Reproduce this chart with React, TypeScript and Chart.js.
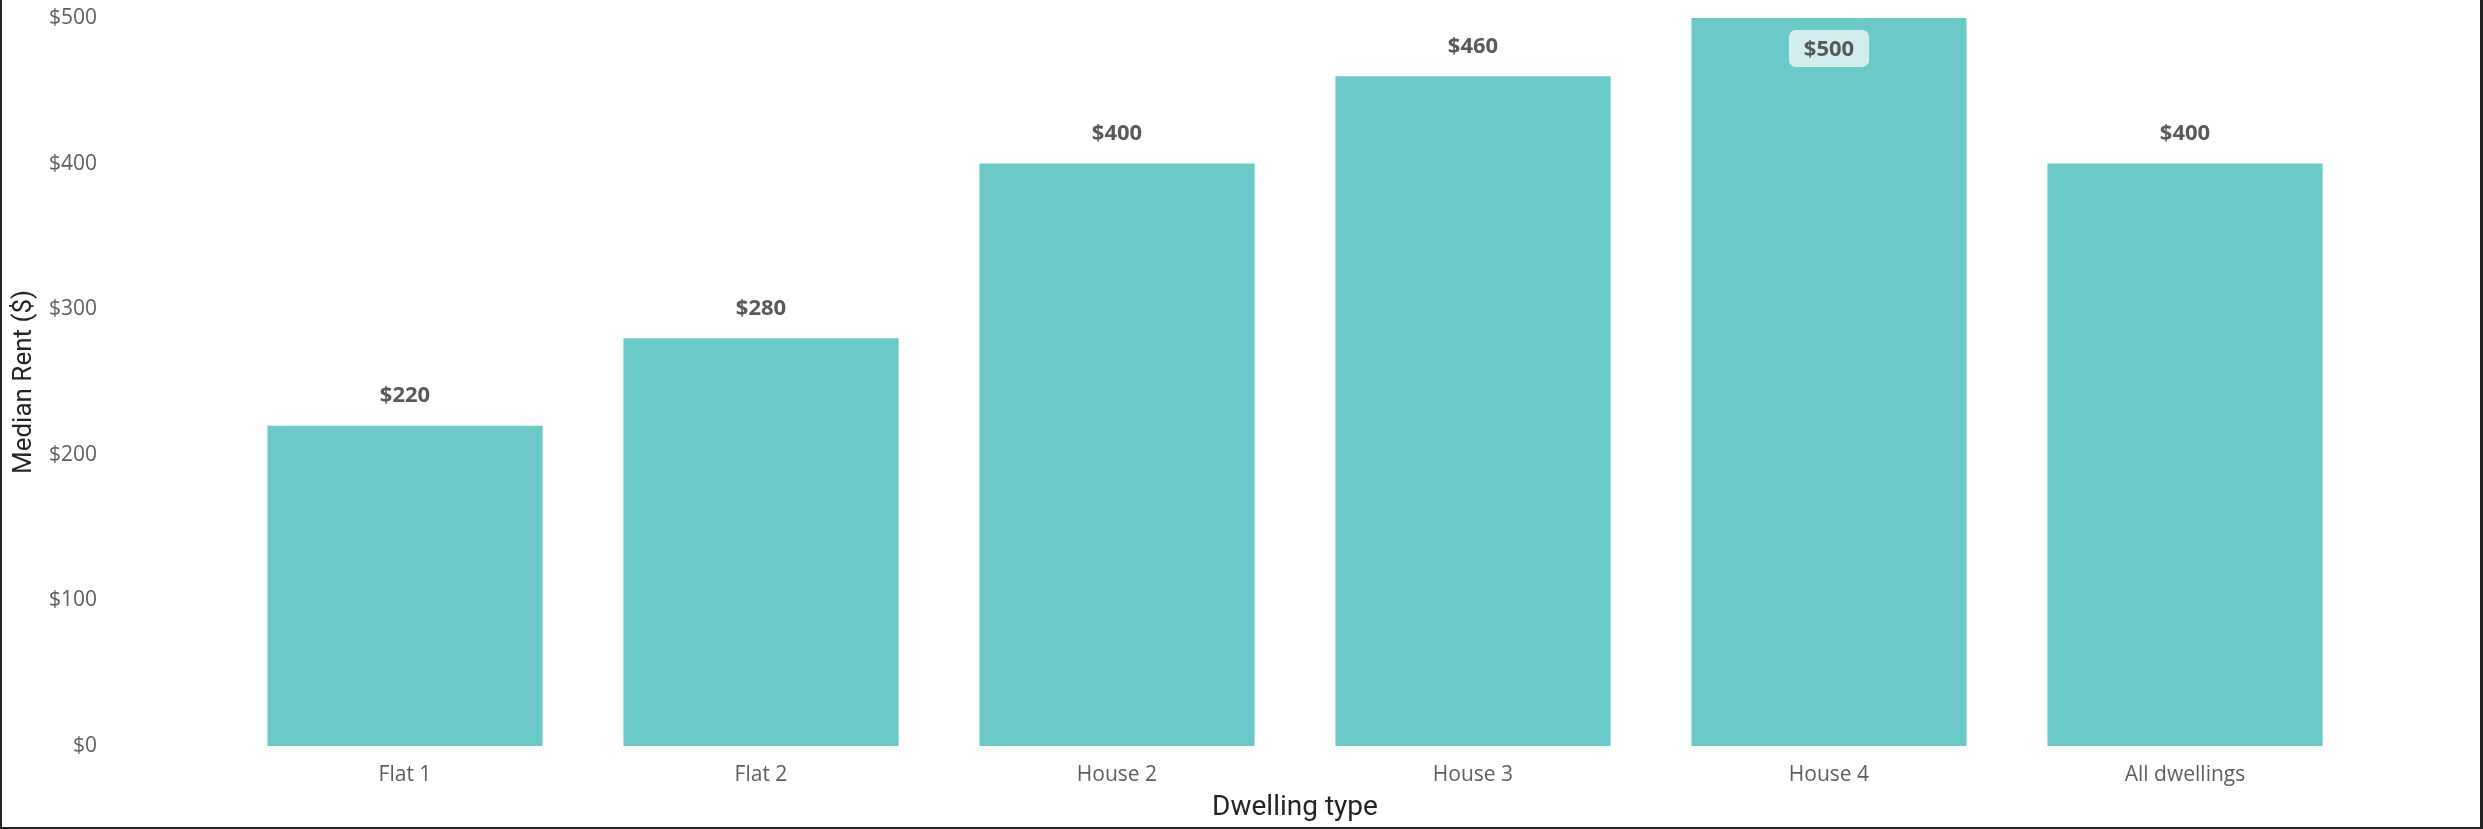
import React, { useEffect, useRef } from "react";
import { Chart, registerables } from "chart.js";

Chart.register(...registerables);

const categories: string[] = ["Flat 1", "Flat 2", "House 2", "House 3", "House 4", "All dwellings"];
const medianRent: number[] = [220, 280, 400, 460, 500, 400];
const yTicks: number[] = [0, 100, 200, 300, 400, 500];

const BAR_COLOR = "#6BC9C8";
const TICK_COLOR = "#605E5C";
const TITLE_COLOR = "#252423";
const LABEL_COLOR = "#595959";
const TICK_FONT = "'Open Sans', 'Noto Sans', sans-serif";
const TITLE_FONT = "Roboto, 'Noto Sans', sans-serif";

const dataLabelPlugin = {
  id: "dataLabels",
  afterDatasetsDraw(chart: any) {
    const ctx = chart.ctx;
    const meta = chart.getDatasetMeta(0);
    const ds = chart.data.datasets[0];
    ctx.save();
    ctx.font = `bold 22px ${TICK_FONT}`;
    ctx.textAlign = "center";
    ctx.textBaseline = "middle";
    meta.data.forEach((bar: any, i: number) => {
      const text = "$" + ds.data[i];
      const top = bar.y;
      const x = bar.x;
      if (top - chart.chartArea.top < 40) {
        const w = ctx.measureText(text).width + 30;
        const h = 37;
        const cy = top + 12 + h / 2;
        ctx.fillStyle = "#D2EFEF";
        ctx.beginPath();
        (ctx as any).roundRect(x - w / 2, cy - h / 2, w, h, 7);
        ctx.fill();
        ctx.fillStyle = LABEL_COLOR;
        ctx.fillText(text, x, cy + 1);
      } else {
        ctx.fillStyle = LABEL_COLOR;
        ctx.fillText(text, x, top - 30);
      }
    });
    ctx.restore();
  },
};

export default function App() {
  const ref = useRef<HTMLCanvasElement | null>(null);

  useEffect(() => {
    document.body.style.margin = "0";
    const canvas = ref.current;
    if (!canvas) return;
    const chart = new Chart(canvas, {
      type: "bar",
      data: {
        labels: categories,
        datasets: [
          {
            label: "Median Rent ($)",
            data: medianRent,
            backgroundColor: BAR_COLOR,
            borderWidth: 0,
            categoryPercentage: 1,
            barPercentage: 0.773,
          },
        ],
      },
      options: {
        animation: false,
        responsive: false,
        devicePixelRatio: 1,
        layout: { padding: { left: 0, right: 120, top: 18, bottom: 0 } },
        plugins: {
          legend: { display: false },
          tooltip: { enabled: false },
        },
        scales: {
          x: {
            grid: { display: false },
            border: { display: false },
            ticks: {
              color: TICK_COLOR,
              font: { family: TICK_FONT, size: 21 },
              padding: 8,
              maxRotation: 0,
            },
            title: {
              display: true,
              text: "Dwelling type",
              color: TITLE_COLOR,
              font: { family: TITLE_FONT, size: 28 },
              padding: { top: 0, bottom: 4 },
            },
            afterFit(scale: any) {
              scale.height = 83;
              scale.paddingLeft = 0;
              scale.paddingRight = 0;
            },
          },
          y: {
            min: 0,
            max: 500,
            grid: { display: false },
            border: { display: false },
            afterBuildTicks(scale: any) {
              scale.ticks = yTicks.map((v) => ({ value: v }));
            },
            ticks: {
              color: TICK_COLOR,
              font: { family: TICK_FONT, size: 21 },
              padding: 122,
              callback: (v: any) => "$" + v,
            },
            title: {
              display: true,
              text: "Median Rent ($)",
              color: TITLE_COLOR,
              font: { family: TITLE_FONT, size: 26 },
              padding: { top: 9, bottom: 0 },
            },
            afterFit(scale: any) {
              scale.width = 227;
              scale.paddingTop = 0;
              scale.paddingBottom = 0;
            },
          },
        },
      },
      plugins: [dataLabelPlugin],
    });
    return () => chart.destroy();
  }, []);

  return (
    <div style={{ position: "relative", width: 2483, height: 829, background: "#fff" }}>
      <canvas ref={ref} width={2483} height={829} style={{ position: "absolute", left: 0, top: 0, display: "block" }} />
      <div
        style={{
          position: "absolute",
          inset: 0,
          boxSizing: "border-box",
          borderLeft: "2px solid #222",
          borderRight: "3px solid #222",
          borderBottom: "2px solid #222",
          pointerEvents: "none",
        }}
      />
    </div>
  );
}
